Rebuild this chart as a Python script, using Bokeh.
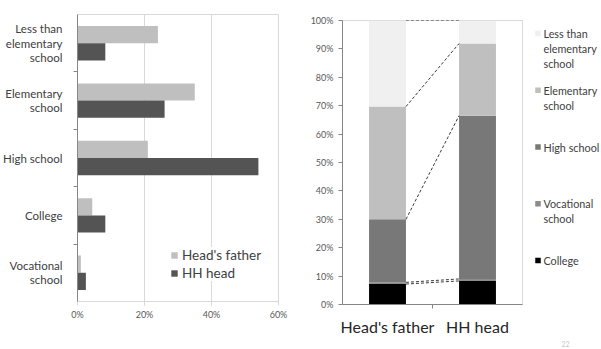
from bokeh.plotting import figure
from bokeh.layouts import row, column
from bokeh.models import (FixedTicker, NumeralTickFormatter, Legend, LegendItem,
                          Range1d, ColumnDataSource)
from bokeh.embed import file_html
from bokeh.resources import INLINE
from bokeh.core.properties import value
import numpy as np

# ---- data -------------------------------------------------------------
# Left panel: share of each education level (top to bottom)
edu_levels = ["Less than\nelementary\nschool", "Elementary\nschool", "High school",
              "College", "Vocational\nschool"]
heads_father = [0.24, 0.35, 0.21, 0.044, 0.01]
hh_head = [0.083, 0.26, 0.54, 0.083, 0.025]
x_ticks = [0.0, 0.2, 0.4, 0.6]

# Right panel: 100% stacked composition, stacked bottom -> top
groups = ["Head's father", "HH head"]
stack_levels = ["College", "Vocational school", "High school",
                "Elementary school", "Less than elementary school"]
father_share = [0.072, 0.006, 0.222, 0.397, 0.303]
head_share = [0.083, 0.007, 0.575, 0.254, 0.081]
stack_colors = ["#000000", "#8c8c8c", "#787878", "#bfbfbf", "#f0f0f0"]

# legend listing (top -> bottom) for the right panel
legend_labels = ["Less than\nelementary\nschool", "Elementary\nschool", "High school",
                 "Vocational\nschool", "College"]
legend_colors = ["#f0f0f0", "#bfbfbf", "#787878", "#8c8c8c", "#000000"]

FONT = "Lato"

# ---- left panel: grouped horizontal bars --------------------------------
n = len(edu_levels)
centers = [n - i - 0.5 for i in range(n)]
src = ColumnDataSource(dict(
    yf=[c + 0.15 for c in centers],
    yh=[c - 0.15 for c in centers],
    father=heads_father,
    head=hh_head,
))

p1 = figure(width=300, height=349, x_range=Range1d(0, 0.6), y_range=Range1d(0, n),
            output_backend="svg", toolbar_location=None,
            min_border_left=75, min_border_right=22, min_border_top=14, min_border_bottom=48)
p1.outline_line_color = "#d9d9d9"

r_f = p1.hbar(y="yf", right="father", left=0, height=0.3, source=src,
              fill_color="#bfbfbf", line_color=None)
r_h = p1.hbar(y="yh", right="head", left=0, height=0.3, source=src,
              fill_color="#545454", line_color=None)

p1.xaxis.ticker = FixedTicker(ticks=x_ticks)
p1.xaxis.formatter = NumeralTickFormatter(format="0%")
p1.xgrid.ticker = FixedTicker(ticks=x_ticks)
p1.xgrid.grid_line_color = "#d9d9d9"
p1.ygrid.visible = False
p1.xaxis.axis_line_color = "#d9d9d9"
p1.xaxis.major_tick_line_color = "#d9d9d9"
p1.xaxis.major_tick_out = 4
p1.xaxis.major_tick_in = 0
p1.xaxis.minor_tick_line_color = None
p1.xaxis.major_label_text_font = FONT
p1.xaxis.major_label_text_font_size = "9px"
p1.xaxis.major_label_text_color = "#595959"
p1.xaxis.major_label_standoff = 3

p1.yaxis.ticker = FixedTicker(ticks=centers, minor_ticks=[float(k) for k in range(1, n)])
p1.yaxis.major_label_overrides = {c: lab for c, lab in zip(centers, edu_levels)}
p1.yaxis.axis_line_color = "#868686"
p1.yaxis.major_tick_line_color = None
p1.yaxis.major_tick_out = 0
p1.yaxis.major_tick_in = 0
p1.yaxis.minor_tick_line_color = "#868686"
p1.yaxis.minor_tick_out = 4
p1.yaxis.minor_tick_in = 0
p1.yaxis.major_label_text_font = FONT
p1.yaxis.major_label_text_font_size = "11.5px"
p1.yaxis.major_label_text_line_height = 1.1
p1.yaxis.major_label_text_color = "#404040"
p1.yaxis.major_label_standoff = 11

legend = Legend(items=[LegendItem(label="Head's father", renderers=[r_f]),
                       LegendItem(label="HH head", renderers=[r_h])],
                location=(93, 20), orientation="vertical",
                glyph_width=8, glyph_height=8, label_standoff=4,
                label_text_font=FONT, label_text_font_size="13.5px",
                label_text_color="#404040", label_height=15,
                spacing=2, padding=2, margin=0,
                border_line_color=None, background_fill_color="white",
                background_fill_alpha=1.0)
p1.add_layout(legend)

# ---- right panel: 100% stacked columns -------------------------------------
xs = [0.5, 1.5]
bar_w = 0.41
data = dict(x=xs)
for lvl, a, b in zip(stack_levels, father_share, head_share):
    data[lvl] = [a, b]
src2 = ColumnDataSource(data)

p2 = figure(width=231, height=349, x_range=Range1d(0, 2), y_range=Range1d(0, 1),
            output_backend="svg", toolbar_location=None,
            min_border_left=42, min_border_right=9, min_border_top=20, min_border_bottom=45)
p2.outline_line_color = "#d9d9d9"
p2.grid.visible = False

p2.vbar_stack(stack_levels, x="x", width=bar_w, color=stack_colors,
              line_color=None, source=src2)

# dashed connectors between the tops of matching segments
top_f = np.cumsum(father_share)
top_h = np.cumsum(head_share)
p2.segment(x0=[xs[0] + bar_w / 2] * len(top_f), y0=list(top_f),
           x1=[xs[1] - bar_w / 2] * len(top_h), y1=list(top_h),
           line_color="#3a3a3a", line_width=1, line_dash="3 2")

p2.yaxis.ticker = FixedTicker(ticks=[k / 10 for k in range(11)])
p2.yaxis.formatter = NumeralTickFormatter(format="0%")
p2.yaxis.axis_line_color = "#868686"
p2.yaxis.major_tick_line_color = "#868686"
p2.yaxis.major_tick_out = 4
p2.yaxis.major_tick_in = 0
p2.yaxis.minor_tick_line_color = None
p2.yaxis.major_label_text_font = FONT
p2.yaxis.major_label_text_font_size = "9px"
p2.yaxis.major_label_text_color = "#595959"
p2.yaxis.major_label_standoff = 5

p2.xaxis.ticker = FixedTicker(ticks=xs, minor_ticks=[1.0])
p2.xaxis.major_label_overrides = {x: g for x, g in zip(xs, groups)}
p2.xaxis.axis_line_color = "#868686"
p2.xaxis.major_tick_line_color = None
p2.xaxis.major_tick_out = 0
p2.xaxis.major_tick_in = 0
p2.xaxis.minor_tick_line_color = "#868686"
p2.xaxis.minor_tick_out = 4
p2.xaxis.minor_tick_in = 0
p2.xaxis.major_label_text_font = FONT
p2.xaxis.major_label_text_font_size = "16px"
p2.xaxis.major_label_text_color = "#262626"
p2.xaxis.major_label_standoff = 8

# ---- right-hand legend (own small canvas, pixel-like coordinates) -----------
LEG_TOP, LEG_STEP, LINE_H = 33.0, 56.75, 14.8
p3 = figure(width=70, height=349, x_range=Range1d(0, 70), y_range=Range1d(349, 0),
            output_backend="svg", toolbar_location=None,
            x_axis_type=None, y_axis_type=None, min_border=0)
p3.outline_line_color = None
p3.grid.visible = False

sq_y = [LEG_TOP + i * LEG_STEP for i in range(len(legend_labels))]
p3.rect(x=[6.5] * len(sq_y), y=sq_y, width=5.5, height=5.5,
        fill_color=legend_colors, line_color=None)
tx, ty, tt = [], [], []
for i, lab in enumerate(legend_labels):
    for j, line in enumerate(lab.split("\n")):
        tx.append(12.0)
        ty.append(sq_y[i] + j * LINE_H)
        tt.append(line)
p3.text(x=tx, y=ty, text=tt, text_font=value(FONT), text_font_size="10.8px",
        text_color="#404040", text_baseline="middle", text_align="left")
p3.text(x=[30], y=[343], text=["22"], text_font=value(FONT), text_font_size="7px",
        text_color="#c8c8c8", text_baseline="middle", text_align="left")

# each panel in its own column so their frames are laid out independently
layout = row(column(p1), column(p2), column(p3))
open("out.html", "w").write(file_html(layout, INLINE))
